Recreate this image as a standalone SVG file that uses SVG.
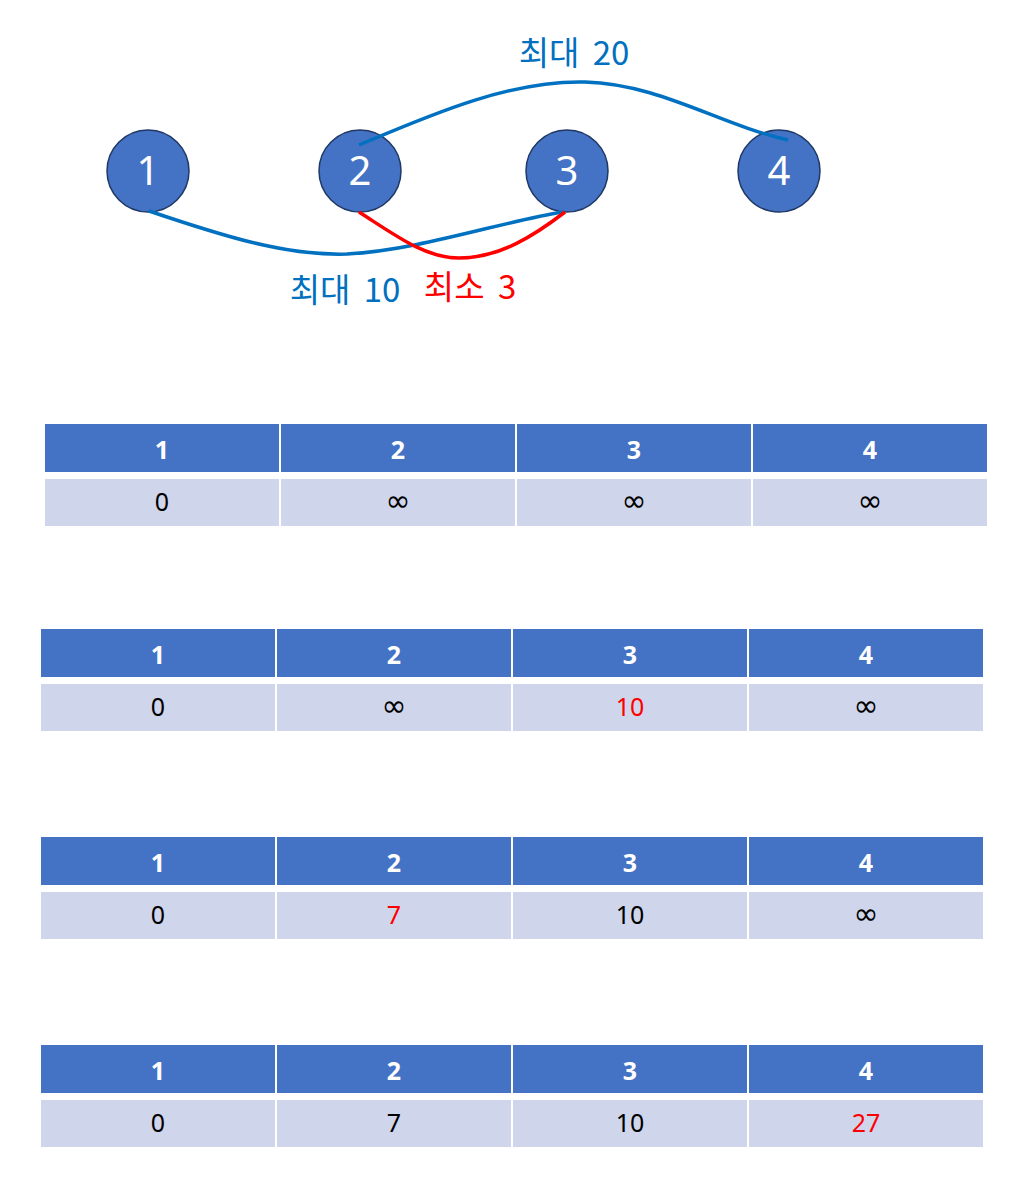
<svg xmlns="http://www.w3.org/2000/svg" width="1024" height="1204" viewBox="0 0 1024 1204">
<style>
.node{fill:#4472C4;stroke:#1F3864;stroke-width:1.5}
.nt{fill:#fff;font-family:"Noto Sans","Open Sans",sans-serif;font-size:40px;text-anchor:middle}
.lbl{font-family:"Noto Sans CJK KR","Noto Sans",sans-serif;font-size:33px;word-spacing:6px;text-anchor:middle}
.blue{fill:none;stroke:#0070C0;stroke-width:3.5}
.red{fill:none;stroke:#FF0000;stroke-width:3.5}
.hd{fill:#4472C4}
.dc{fill:#CFD5EA}
.ht{fill:#fff;font-family:"Noto Sans","Open Sans",sans-serif;font-weight:bold;font-size:25px;text-anchor:middle}
.dt{fill:#000;font-family:"Noto Sans","Open Sans",sans-serif;font-size:25px;text-anchor:middle}
.inf{fill:#000;font-family:"DejaVu Sans",sans-serif;font-size:30px;text-anchor:middle}
.r{fill:#FF0000}
</style>
<rect width="1024" height="1204" fill="#fff"/>
<g id="node1"><ellipse class="node" cx="148" cy="171" rx="41" ry="41"/><text class="nt" x="148" y="185">1</text></g>
<g id="node2"><ellipse class="node" cx="360" cy="171" rx="41" ry="41"/><text class="nt" x="360" y="185">2</text></g>
<g id="node3"><ellipse class="node" cx="567" cy="171" rx="41" ry="41"/><text class="nt" x="567" y="185">3</text></g>
<g id="node4"><ellipse class="node" cx="779" cy="171" rx="41" ry="41"/><text class="nt" x="779" y="185">4</text></g>
<g id="connectors">
<path class="blue" d="M359,145 C430,115 510,80 585,82 C660,84 720,125 788,140"/>
<path class="blue" d="M149,211 C220,235 285,256 347,254 C420,250 500,222 563,212"/>
<path class="red" d="M359,212 C395,235 425,258 459,258 C500,258 535,235 565,212"/>
</g>
<g id="labels">
<text class="lbl" x="574" y="65" fill="#0070C0">최대 20</text>
<text class="lbl" x="345" y="302" fill="#0070C0">최대 10</text>
<text class="lbl" x="470" y="299" fill="#FF0000">최소 3</text>
</g>
<g id="table1">
<rect class="hd" x="45" y="424" width="234" height="48"/><rect class="hd" x="281" y="424" width="234" height="48"/><rect class="hd" x="517" y="424" width="234" height="48"/><rect class="hd" x="753" y="424" width="234" height="48"/>
<rect class="dc" x="45" y="479" width="234" height="47"/><rect class="dc" x="281" y="479" width="234" height="47"/><rect class="dc" x="517" y="479" width="234" height="47"/><rect class="dc" x="753" y="479" width="234" height="47"/>
<text class="ht" x="162" y="459">1</text><text class="ht" x="398" y="459">2</text><text class="ht" x="634" y="459">3</text><text class="ht" x="870" y="459">4</text>
<text class="dt" x="162" y="511">0</text><text class="inf" x="398" y="511">∞</text><text class="inf" x="634" y="511">∞</text><text class="inf" x="870" y="511">∞</text>
</g>
<g id="table2">
<rect class="hd" x="41" y="629" width="234" height="48"/><rect class="hd" x="277" y="629" width="234" height="48"/><rect class="hd" x="513" y="629" width="234" height="48"/><rect class="hd" x="749" y="629" width="234" height="48"/>
<rect class="dc" x="41" y="684" width="234" height="47"/><rect class="dc" x="277" y="684" width="234" height="47"/><rect class="dc" x="513" y="684" width="234" height="47"/><rect class="dc" x="749" y="684" width="234" height="47"/>
<text class="ht" x="158" y="664">1</text><text class="ht" x="394" y="664">2</text><text class="ht" x="630" y="664">3</text><text class="ht" x="866" y="664">4</text>
<text class="dt" x="158" y="716">0</text><text class="inf" x="394" y="716">∞</text><text class="dt r" x="630" y="716">10</text><text class="inf" x="866" y="716">∞</text>
</g>
<g id="table3">
<rect class="hd" x="41" y="837" width="234" height="48"/><rect class="hd" x="277" y="837" width="234" height="48"/><rect class="hd" x="513" y="837" width="234" height="48"/><rect class="hd" x="749" y="837" width="234" height="48"/>
<rect class="dc" x="41" y="892" width="234" height="47"/><rect class="dc" x="277" y="892" width="234" height="47"/><rect class="dc" x="513" y="892" width="234" height="47"/><rect class="dc" x="749" y="892" width="234" height="47"/>
<text class="ht" x="158" y="872">1</text><text class="ht" x="394" y="872">2</text><text class="ht" x="630" y="872">3</text><text class="ht" x="866" y="872">4</text>
<text class="dt" x="158" y="924">0</text><text class="dt r" x="394" y="924">7</text><text class="dt" x="630" y="924">10</text><text class="inf" x="866" y="924">∞</text>
</g>
<g id="table4">
<rect class="hd" x="41" y="1045" width="234" height="48"/><rect class="hd" x="277" y="1045" width="234" height="48"/><rect class="hd" x="513" y="1045" width="234" height="48"/><rect class="hd" x="749" y="1045" width="234" height="48"/>
<rect class="dc" x="41" y="1100" width="234" height="47"/><rect class="dc" x="277" y="1100" width="234" height="47"/><rect class="dc" x="513" y="1100" width="234" height="47"/><rect class="dc" x="749" y="1100" width="234" height="47"/>
<text class="ht" x="158" y="1080">1</text><text class="ht" x="394" y="1080">2</text><text class="ht" x="630" y="1080">3</text><text class="ht" x="866" y="1080">4</text>
<text class="dt" x="158" y="1132">0</text><text class="dt" x="394" y="1132">7</text><text class="dt" x="630" y="1132">10</text><text class="dt r" x="866" y="1132">27</text>
</g>
</svg>
